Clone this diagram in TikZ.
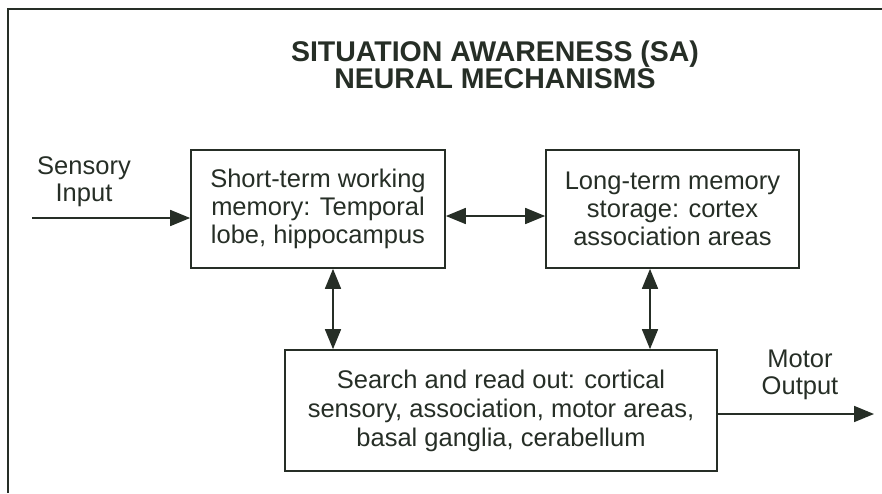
\documentclass[tikz,border=0pt]{standalone}
\usepackage{fontspec}
\setmainfont{Liberation Sans}
\usetikzlibrary{arrows.meta}
\definecolor{ink}{RGB}{38,46,38}
\tikzset{
  box/.style={draw=ink, line width=1.7pt, text=ink, align=center, inner sep=0pt,
    font=\fontsize{25.5}{28}\selectfont},
  lab/.style={text=ink, align=center, font=\fontsize{25.5}{27}\selectfont},
  conn/.style={draw=ink, line width=1.7pt, -{Triangle[length=20pt,width=16pt]}},
  dconn/.style={draw=ink, line width=1.7pt, {Triangle[length=20pt,width=16pt]}-{Triangle[length=20pt,width=16pt]}},
}
\begin{document}
\begin{tikzpicture}[x=1pt,y=-1pt]
\useasboundingbox (0,0) rectangle (882,493);
\draw[ink, line width=1.8pt] (8,493) -- (8,9) -- (882,9);
\node[text=ink, align=center, font=\fontsize{28.5}{27.5}\bfseries\selectfont] (title) at (495,65)
  {SITUATION AWARENESS (SA)\\NEURAL MECHANISMS};
\node[box, minimum width=254pt, minimum height=118pt] (stm) at (318,209)
  {Short-term working\\memory: Temporal\\lobe, hippocampus};
\node[box, minimum width=253pt, minimum height=118pt] (ltm) at (672.5,209)
  {Long-term memory\\storage: cortex\\association areas};
\node[box, minimum width=432pt, minimum height=121pt, font=\fontsize{25.5}{29}\selectfont] (srch) at (501,410.5)
  {Search and read out: cortical\\sensory, association, motor areas,\\basal ganglia, cerabellum};
\coordinate (sin) at (32,218);
\coordinate (mout) at (874,414);
\node[lab] (sinl) at (84,182) {Sensory\\Input};
\node[lab] (moutl) at (800,375) {Motor\\Output};
\draw[conn] (sin) -- (sin -| stm.west);
\draw[dconn] (stm.east |- 0,216) -- (ltm.west |- 0,216);
\draw[dconn] (stm.south -| 333,0) -- (srch.north -| 333,0);
\draw[dconn] (ltm.south -| 650,0) -- (srch.north -| 650,0);
\draw[conn] (srch.east |- mout) -- (mout);
\end{tikzpicture}
\end{document}
